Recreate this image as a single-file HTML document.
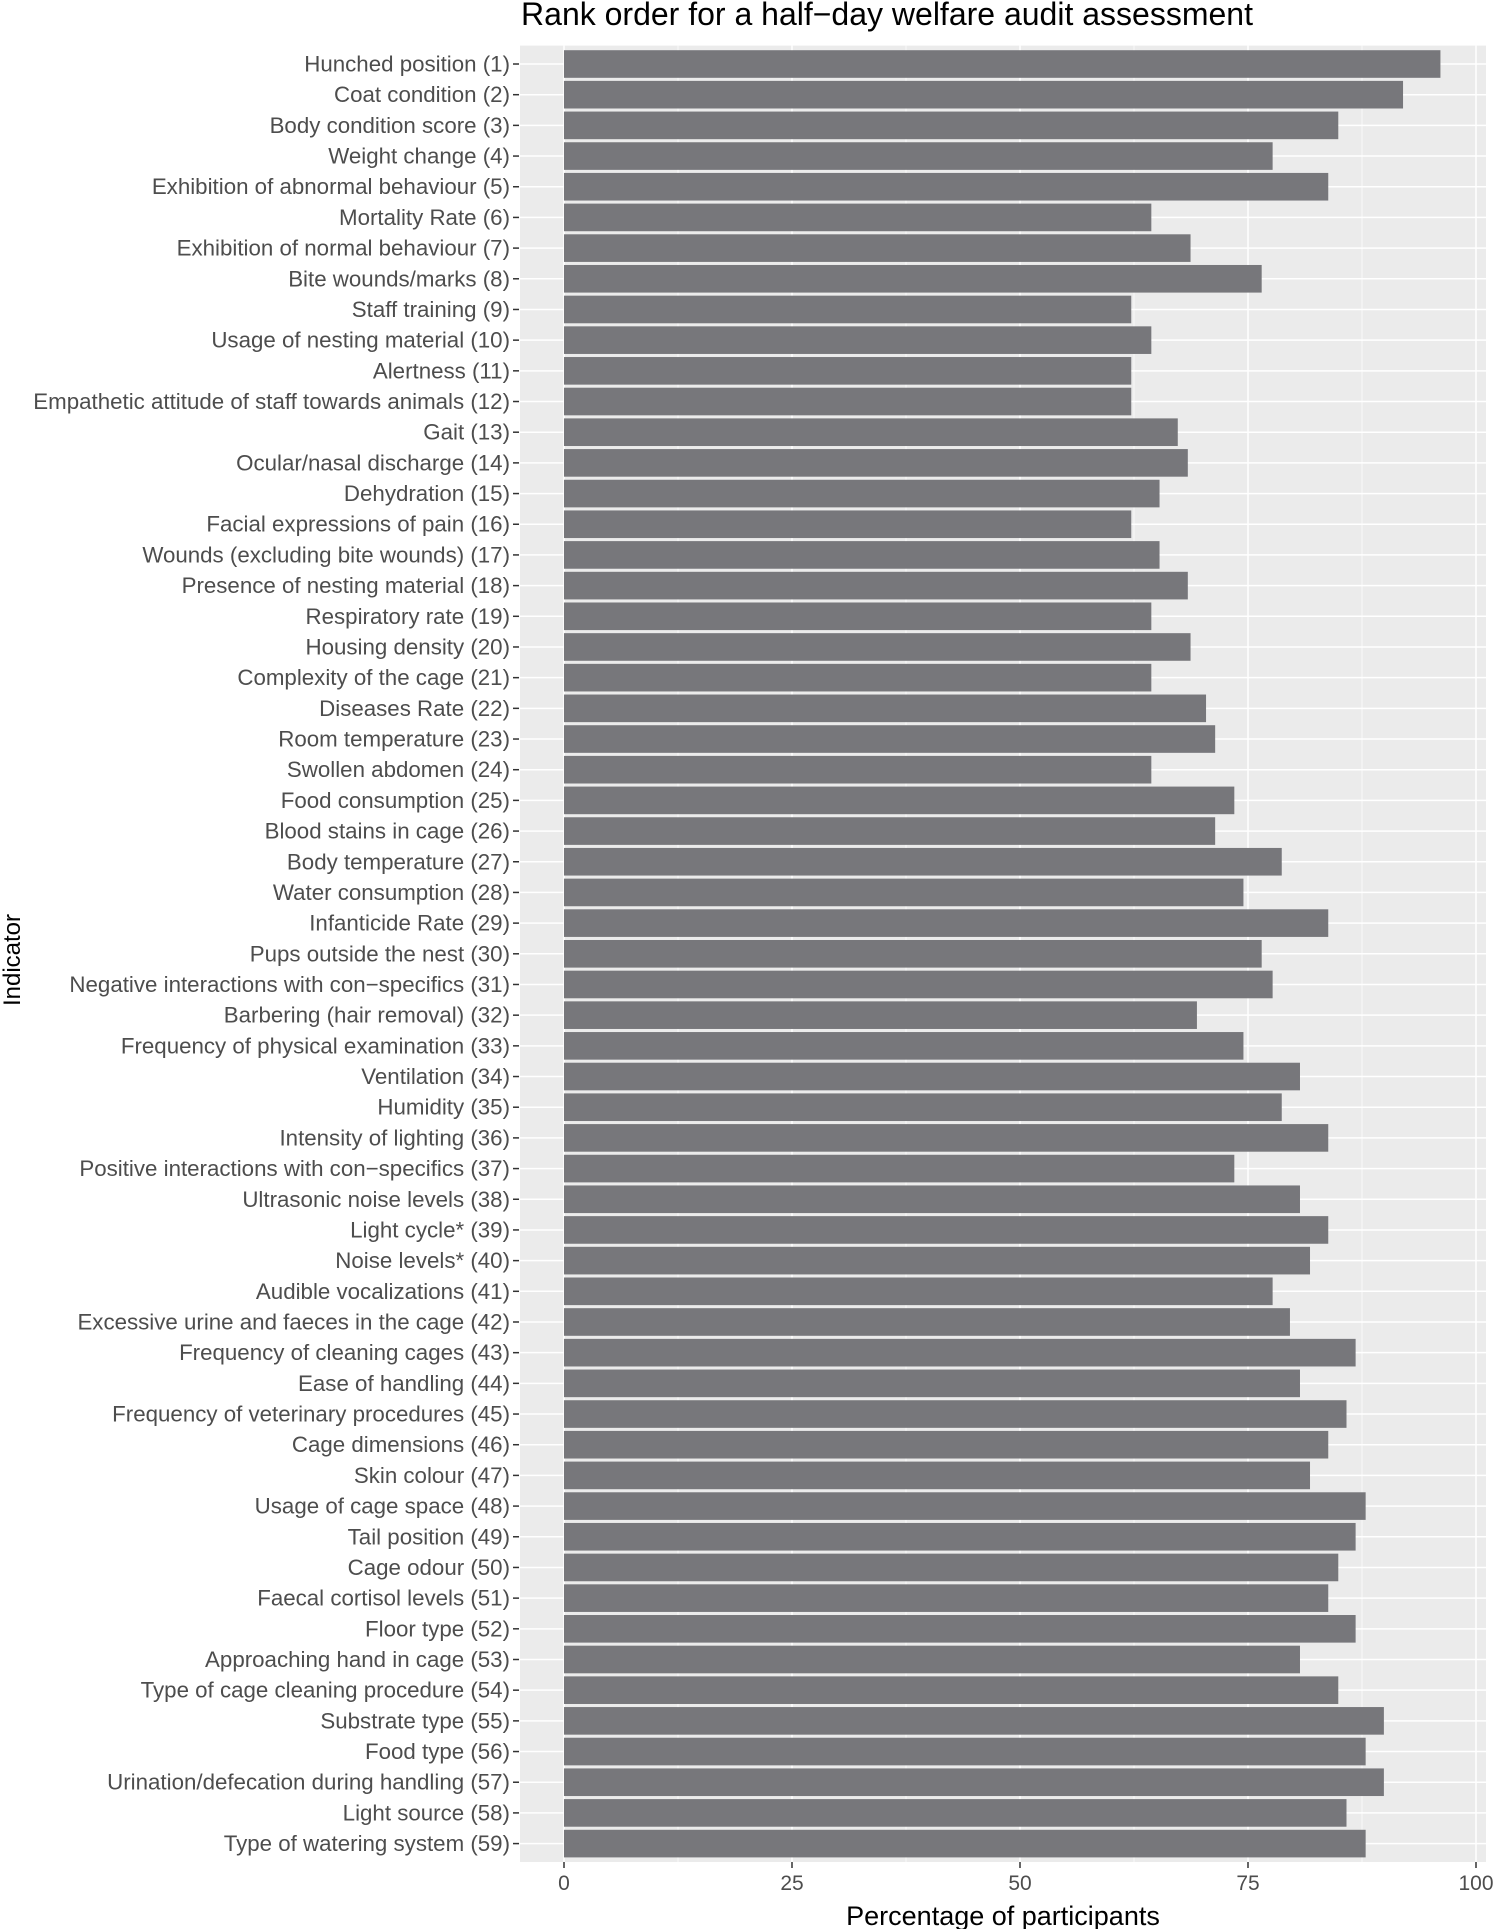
<!DOCTYPE html>
<html><head><meta charset="utf-8"><style>
html,body{margin:0;padding:0;background:#fff;}
svg{display:block;font-family:"Liberation Sans",Arial,sans-serif;}
</style></head><body>
<svg id="chart" width="1496" height="1929" xmlns="http://www.w3.org/2000/svg">
<text x="887" y="25" text-anchor="middle" font-size="32" fill="#000">Rank order for a half−day welfare audit assessment</text>
<text transform="translate(20,960) rotate(-90)" text-anchor="middle" font-size="24" fill="#000">Indicator</text>
<text x="1003" y="1925" text-anchor="middle" font-size="27" fill="#000">Percentage of participants</text>
<g id="panel"></g>
</svg>
<script>
const categories = ["Hunched position (1)","Coat condition (2)","Body condition score (3)","Weight change  (4)","Exhibition of abnormal behaviour  (5)","Mortality Rate  (6)","Exhibition of normal behaviour (7)","Bite wounds/marks (8)","Staff training (9)","Usage of nesting material (10)","Alertness (11)","Empathetic attitude of staff towards animals (12)","Gait (13)","Ocular/nasal discharge (14)","Dehydration (15)","Facial expressions of pain (16)","Wounds (excluding bite wounds) (17)","Presence of nesting material (18)","Respiratory rate (19)","Housing density (20)","Complexity of the cage (21)","Diseases Rate (22)","Room temperature (23)","Swollen abdomen (24)","Food consumption (25)","Blood stains in cage (26)","Body temperature (27)","Water consumption (28)","Infanticide Rate (29)","Pups outside the nest (30)","Negative interactions with con−specifics (31)","Barbering (hair removal) (32)","Frequency of physical examination (33)","Ventilation (34)","Humidity (35)","Intensity of lighting (36)","Positive interactions with con−specifics (37)","Ultrasonic noise levels (38)","Light cycle* (39)","Noise levels* (40)","Audible vocalizations (41)","Excessive urine and faeces in the cage (42)","Frequency of cleaning cages (43)","Ease of handling (44)","Frequency of veterinary procedures (45)","Cage dimensions (46)","Skin colour (47)","Usage of cage space (48)","Tail position (49)","Cage odour (50)","Faecal cortisol levels (51)","Floor type (52)","Approaching hand in cage (53)","Type of cage cleaning procedure (54)","Substrate type (55)","Food type (56)","Urination/defecation during handling (57)","Light source (58)","Type of watering system (59)"];
const values = [96.1,92,84.9,77.7,83.8,64.4,68.7,76.5,62.2,64.4,62.2,62.2,67.3,68.4,65.3,62.2,65.3,68.4,64.4,68.7,64.4,70.4,71.4,64.4,73.5,71.4,78.7,74.5,83.8,76.5,77.7,69.4,74.5,80.7,78.7,83.8,73.5,80.7,83.8,81.8,77.7,79.6,86.8,80.7,85.8,83.8,81.8,87.9,86.8,84.9,83.8,86.8,80.7,84.9,89.9,87.9,89.9,85.8,87.9];
const xTicks = [0,25,50,75,100];
const xMinor = [12.5,37.5,62.5,87.5];

(function(){
const NS="http://www.w3.org/2000/svg";
const g=document.getElementById('panel');
const pLeft=520, pRight=1486, pTop=45.6, pBottom=1862;
const x0=564, unit=9.12;
const xs=v=>x0+v*unit;
const pitch=(pBottom-pTop)/(categories.length+0.2);
const yc=i=>pTop+pitch*(0.6+i);
function mk(t,a){const e=document.createElementNS(NS,t);for(const k in a)e.setAttribute(k,a[k]);g.appendChild(e);return e;}
let r=mk('rect',{x:pLeft,y:pTop,width:pRight-pLeft,height:pBottom-pTop,fill:'#ebebeb'});


xMinor.forEach(v=>{const l=mk('line',{x1:xs(v),x2:xs(v),y1:pTop,y2:pBottom,stroke:'#fff','stroke-width':0.7});

});
xTicks.forEach(v=>{const l=mk('line',{x1:xs(v),x2:xs(v),y1:pTop,y2:pBottom,stroke:'#fff','stroke-width':1.5});


const t=mk('line',{x1:xs(v),x2:xs(v),y1:pBottom,y2:pBottom+6,stroke:'#333','stroke-width':1.5});


const tx=mk('text',{x:xs(v),y:pBottom+28,'text-anchor':'middle','font-size':21,fill:'#4d4d4d'});tx.textContent=v;

});
categories.forEach((c,i)=>{const y=yc(i);
const l=mk('line',{x1:pLeft,x2:pRight,y1:y,y2:y,stroke:'#fff','stroke-width':1.5});

});
categories.forEach((c,i)=>{const y=yc(i);const h=pitch*0.9;
const b=mk('rect',{x:xs(0),y:y-h/2,width:xs(values[i])-xs(0),height:h,fill:'#77777b'});


const t=mk('line',{x1:513,x2:519,y1:y,y2:y,stroke:'#333','stroke-width':1.5});


const tx=mk('text',{x:510,y:y+7.5,'text-anchor':'end','font-size':22.3,fill:'#4d4d4d'});tx.textContent=c;

});
})();
</script>
</body></html>
